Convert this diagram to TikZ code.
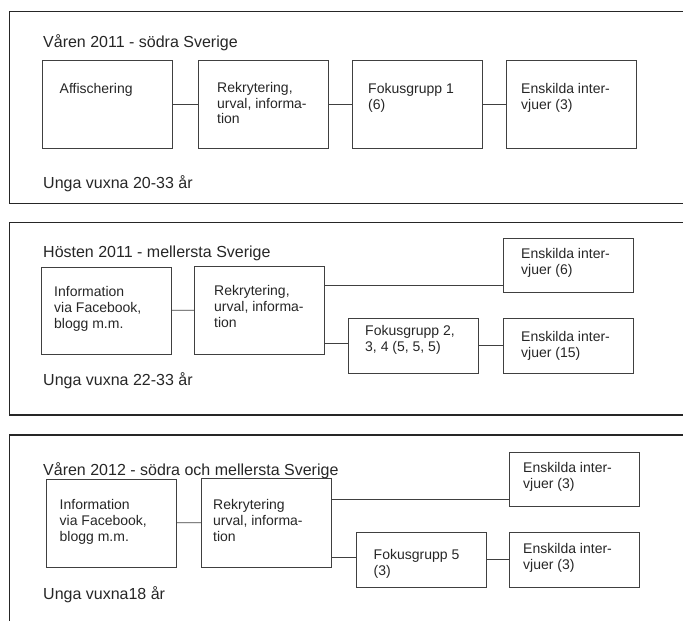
\documentclass[tikz,border=0pt]{standalone}
\usepackage{fontspec}
\setmainfont{Liberation Sans}
\newcommand\txtl[1]{\begin{tabular}[t]{@{}l@{}}#1\end{tabular}}
\begin{document}
\begin{tikzpicture}[x=1pt,y=-1pt,
  frame/.style={draw=black!85, line width=1.1pt},
  box/.style={draw=black!75, line width=0.9pt, minimum width=130pt, inner sep=0pt, outer sep=0pt, anchor=north west},
  conn/.style={draw=black!75, line width=0.9pt},
  txt/.style={inner sep=0pt, anchor=base west, font=\fontsize{14}{16}\selectfont, text=black!85},
  head/.style={inner sep=0pt, anchor=base west, font=\fontsize{16}{19}\selectfont, text=black!85}]
\useasboundingbox (0,0) rectangle (683,621);

% ---------- Panel 1 ----------
\draw[frame] (683,11.7) -- (9.5,11.7) -- (9.5,203.3) -- (683,203.3);
\node[head] (h1) at (43,47.7) {Våren 2011 - södra Sverige};
\node[box, minimum height=88pt] (a1) at (42.5,60) {};
\node[box, minimum height=88pt] (b1) at (198,60) {};
\node[box, minimum height=88pt] (c1) at (352,60) {};
\node[box, minimum height=88pt] (d1) at (506,60) {};
\node[txt] (ta1) at (59.5,93) {\txtl{Affischering}};
\node[txt] (tb1) at (217,92) {\txtl{Rekrytering,\\urval, informa-\\tion}};
\node[txt] (tc1) at (368,93) {\txtl{Fokusgrupp 1\\(6)}};
\node[txt] (td1) at (521,93) {\txtl{Enskilda inter-\\vjuer (3)}};
\draw[conn] (a1) -- (b1);
\draw[conn] (b1) -- (c1);
\draw[conn] (c1) -- (d1);
\node[head] (u1) at (43,188.7) {Unga vuxna 20-33 år};

% ---------- Panel 2 ----------
\draw[frame] (683,222.7) -- (9.5,222.7) -- (9.5,415) -- (683,415);
\node[head] (h2) at (43,257.5) {Hösten 2011 - mellersta Sverige};
\node[box, minimum height=87pt] (a2) at (41,267) {};
\node[box, minimum height=88pt] (b2) at (194,266) {};
\node[box, minimum height=54pt] (e2a) at (503,238) {};
\node[box, minimum height=55pt] (f2) at (348,318) {};
\node[box, minimum height=55pt] (e2b) at (503,318) {};
\node[txt] (ta2) at (54,296) {\txtl{Information\\via Facebook,\\blogg m.m.}};
\node[txt] (tb2) at (214,295) {\txtl{Rekrytering,\\urval, informa-\\tion}};
\node[txt] (te2a) at (521,258) {\txtl{Enskilda inter-\\vjuer (6)}};
\node[txt] (tf2) at (365,335) {\txtl{Fokusgrupp 2,\\3, 4 (5, 5, 5)}};
\node[txt] (te2b) at (521,341) {\txtl{Enskilda inter-\\vjuer (15)}};
\coordinate (y2u) at (0,285);
\coordinate (y2l) at (0,343);
\draw[conn] (a2) -- (b2);
\draw[conn] (b2.east |- y2u) -- (e2a.west |- y2u);
\draw[conn] (b2.east |- y2l) -- (f2.west |- y2l);
\draw[conn] (f2) -- (e2b);
\node[head] (u2) at (43,385.7) {Unga vuxna 22-33 år};

% ---------- Panel 3 ----------
\draw[frame] (683,435) -- (9.5,435) -- (9.5,621);
\node[head] (h3) at (43,475.7) {Våren 2012 - södra och mellersta Sverige};
\node[box, minimum height=88pt] (a3) at (46.5,479) {};
\node[box, minimum height=89pt] (b3) at (201,478) {};
\node[box, minimum height=54pt] (e3a) at (509,452) {};
\node[box, minimum height=55pt] (f3) at (356,532) {};
\node[box, minimum height=55pt] (e3b) at (509,532) {};
\node[txt] (ta3) at (59.5,509) {\txtl{Information\\via Facebook,\\blogg m.m.}};
\node[txt] (tb3) at (213,509) {\txtl{Rekrytering\\urval, informa-\\tion}};
\node[txt] (te3a) at (523,472) {\txtl{Enskilda inter-\\vjuer (3)}};
\node[txt] (tf3) at (373.5,559) {\txtl{Fokusgrupp 5\\(3)}};
\node[txt] (te3b) at (523,553) {\txtl{Enskilda inter-\\vjuer (3)}};
\coordinate (y3u) at (0,499);
\coordinate (y3l) at (0,557);
\draw[conn] (a3) -- (b3);
\draw[conn] (b3.east |- y3u) -- (e3a.west |- y3u);
\draw[conn] (b3.east |- y3l) -- (f3.west |- y3l);
\draw[conn] (f3) -- (e3b);
\node[head] (u3) at (43,599.7) {Unga vuxna18 år};
\end{tikzpicture}
\end{document}
